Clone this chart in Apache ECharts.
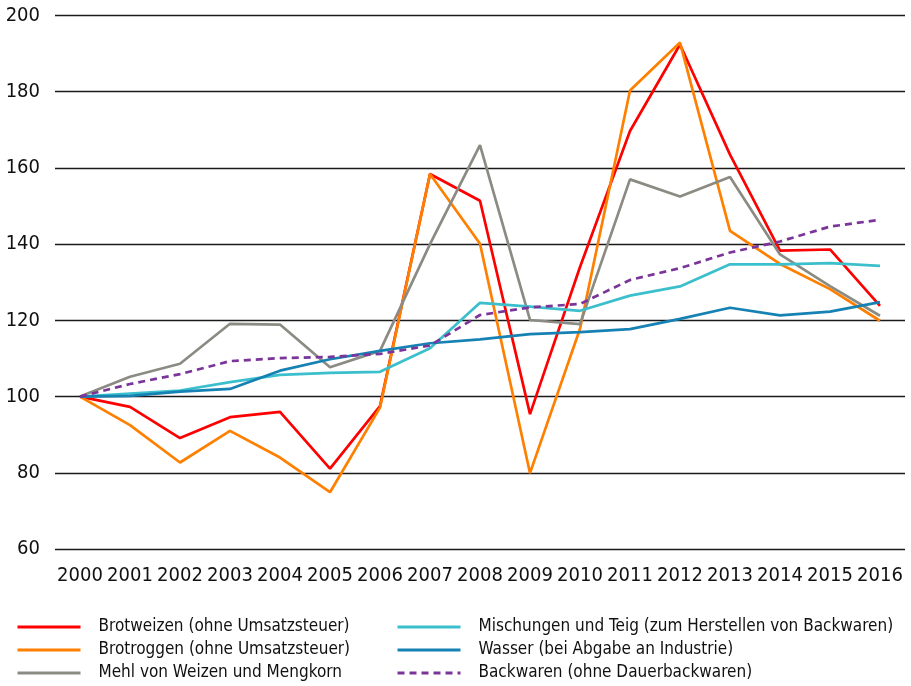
<!DOCTYPE html>
<html>
<head>
<meta charset="utf-8">
<script src="https://cdn.jsdelivr.net/npm/echarts@6/dist/echarts.min.js"></script>
<style>
  html, body { margin: 0; padding: 0; background: #fff; }
  #chart { width: 911px; height: 686px; }
</style>
</head>
<body>
<div id="chart"></div>
<script>
const years = ['2000', '2001', '2002', '2003', '2004', '2005', '2006', '2007', '2008',
  '2009', '2010', '2011', '2012', '2013', '2014', '2015', '2016']

const brotweizen = [100, 97.3, 89.1, 94.6, 96.0, 81.1, 97.5, 158.4, 151.4, 95.4, 134, 169.7, 192.4, 163.5, 138.3, 138.6, 123.8]
const brotroggen = [100, 92.5, 82.7, 91.0, 84.0, 74.9, 97.1, 158.4, 140.1, 79.9, 117.8, 180.3, 192.9, 143.5, 134.8, 128.2, 119.9]
const mehl = [100, 105.2, 108.6, 119.1, 118.9, 107.7, 112.0, 140, 166.0, 120.1, 119.0, 157.0, 152.5, 157.6, 137.3, 129.0, 121.2]
const mischungen = [100, 100.8, 101.6, 103.8, 105.7, 106.2, 106.5, 112.7, 124.6, 123.6, 122.5, 126.5, 128.9, 134.7, 134.7, 135.0, 134.3]
const wasser = [100, 100.2, 101.3, 102.0, 106.8, 109.8, 112.0, 114.0, 115.0, 116.4, 116.9, 117.7, 120.4, 123.3, 121.3, 122.3, 124.8]
const backwaren = [100, 103.3, 105.9, 109.3, 110.1, 110.4, 111.2, 113.4, 121.4, 123.4, 124.3, 130.6, 133.7, 137.8, 140.7, 144.6, 146.4]

const names = [
  'Brotweizen (ohne Umsatzsteuer)',
  'Brotroggen (ohne Umsatzsteuer)',
  'Mehl von Weizen und Mengkorn',
  'Mischungen und Teig (zum Herstellen von Backwaren)',
  'Wasser (bei Abgabe an Industrie)',
  'Backwaren (ohne Dauerbackwaren)'
]
const colors = ['#ff0000', '#ff7f00', '#8c8b83', '#3bbfcc', '#1681b3', '#7a349a']

const fontFamily = '"Liberation Sans Narrow", "DejaVu Sans Condensed", Roboto, sans-serif'

const chart = echarts.init(document.getElementById('chart'))

function mkLine (name, data, color, dashed) {
  return {
    name: name,
    type: 'line',
    data: data,
    symbol: 'none',
    silent: true,
    animation: false,
    lineStyle: { color: color, width: 2.7, type: dashed ? [7, 5] : 'solid' },
    itemStyle: { color: color }
  }
}

const legendBase = {
  orient: 'vertical',
  top: 617,
  padding: 0,
  itemWidth: 63,
  itemHeight: 12,
  itemGap: 3,
  itemStyle: { opacity: 0 },
  lineStyle: { width: 3 },
  textStyle: { fontFamily: fontFamily, fontSize: 17, lineHeight: 20, color: '#111', padding: [0, 0, 0, 13] }
}

chart.setOption({
  animation: false,
  color: colors,
  grid: { left: 55, right: 6, top: 15.5, bottom: 137 },
  legend: [
    Object.assign({}, legendBase, { left: 16, data: names.slice(0, 3) }),
    Object.assign({}, legendBase, { left: 396, data: names.slice(3) })
  ],
  xAxis: {
    type: 'category',
    data: years,
    boundaryGap: true,
    axisLine: { show: false },
    axisTick: { show: false },
    axisLabel: { fontFamily: fontFamily, fontSize: 20, color: '#111', margin: 17, interval: 0 }
  },
  yAxis: {
    type: 'value',
    min: 60,
    max: 200,
    interval: 20,
    axisLine: { show: false },
    axisTick: { show: false },
    axisLabel: { fontFamily: fontFamily, fontSize: 20, color: '#111', margin: 15 },
    splitLine: { lineStyle: { color: '#1a1a1a', width: 1.3 } }
  },
  series: [
    mkLine(names[0], brotweizen, colors[0]),
    mkLine(names[1], brotroggen, colors[1]),
    mkLine(names[2], mehl, colors[2]),
    mkLine(names[3], mischungen, colors[3]),
    mkLine(names[4], wasser, colors[4]),
    mkLine(names[5], backwaren, colors[5], true)
  ]
})
</script>
</body>
</html>
